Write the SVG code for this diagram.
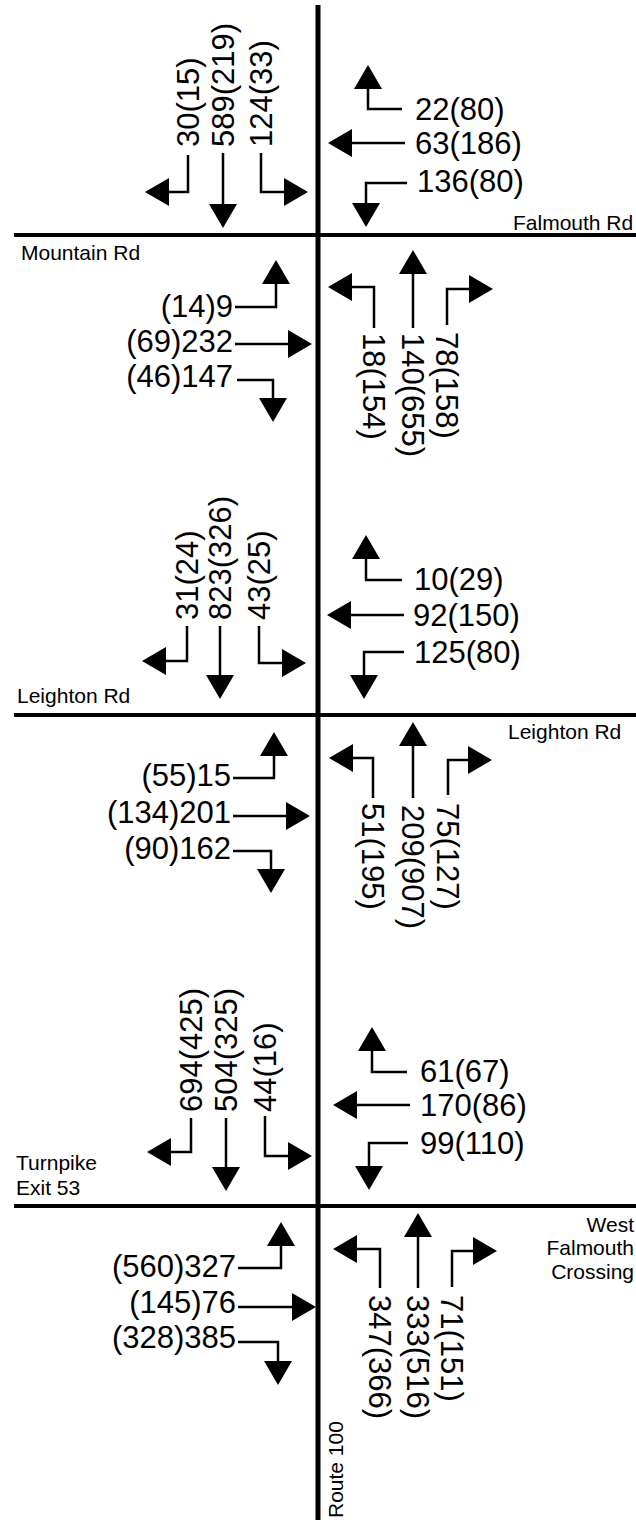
<svg xmlns="http://www.w3.org/2000/svg" width="636" height="1520" viewBox="0 0 636 1520">
<style>
.road{stroke:#000;fill:none}
.arr{stroke:#000;stroke-width:2.5;fill:none;marker-end:url(#ah)}
.n{font-family:"Liberation Sans",Arial,sans-serif;font-size:31px;fill:#000}
.e{text-anchor:end}
.lbl{font-family:"Liberation Sans",Arial,sans-serif;font-size:21px;fill:#000}
</style>
<defs>
<marker id="ah" markerUnits="userSpaceOnUse" viewBox="0 0 24 28" markerWidth="24" markerHeight="28" refX="0" refY="14" orient="auto">
<path d="M0,0 L24,14 L0,28 z" fill="#000"/>
</marker>
</defs>
<rect width="636" height="1520" fill="#fff"/>
<g id="roads">
<line class="road" x1="318" y1="5" x2="318" y2="1520" stroke-width="5"/>
<line class="road" x1="14" y1="235" x2="636" y2="235" stroke-width="4"/>
<line class="road" x1="14" y1="715" x2="636" y2="715" stroke-width="4"/>
<line class="road" x1="14" y1="1206" x2="636" y2="1206" stroke-width="4"/>
</g>
<g id="connectors">
<!-- intersection 1 -->
<path class="arr" d="M188,155 V192 H169"/>
<path class="arr" d="M223,153 V204"/>
<path class="arr" d="M261,153 V192 H284"/>
<path class="arr" d="M402,109 H368 V89"/>
<path class="arr" d="M405,143 H352"/>
<path class="arr" d="M407,183 H366 V203"/>
<path class="arr" d="M235,307 H276 V284"/>
<path class="arr" d="M235,344 H288"/>
<path class="arr" d="M237,380 H273 V398"/>
<path class="arr" d="M374,328 V287 H352"/>
<path class="arr" d="M413,328 V274"/>
<path class="arr" d="M447,325 V289 H469"/>
<!-- intersection 2 -->
<path class="arr" d="M187,626 V661 H166"/>
<path class="arr" d="M220,626 V675"/>
<path class="arr" d="M259,626 V663 H282"/>
<path class="arr" d="M402,580 H366 V559"/>
<path class="arr" d="M404,615 H351"/>
<path class="arr" d="M404,652 H364 V675"/>
<path class="arr" d="M233,778 H274 V756"/>
<path class="arr" d="M233,816 H286"/>
<path class="arr" d="M233,851 H271 V869"/>
<path class="arr" d="M373,798 V758 H353"/>
<path class="arr" d="M413,798 V746"/>
<path class="arr" d="M448,795 V760 H468"/>
<!-- intersection 3 -->
<path class="arr" d="M191,1118 V1152 H171"/>
<path class="arr" d="M226,1118 V1167"/>
<path class="arr" d="M265,1116 V1156 H288"/>
<path class="arr" d="M407,1072 H372 V1051"/>
<path class="arr" d="M410,1105 H357"/>
<path class="arr" d="M408,1143 H369 V1166"/>
<path class="arr" d="M238,1268 H281 V1246"/>
<path class="arr" d="M238,1307 H292"/>
<path class="arr" d="M238,1342 H278 V1361"/>
<path class="arr" d="M380,1288 V1249 H357"/>
<path class="arr" d="M418,1288 V1237"/>
<path class="arr" d="M452,1287 V1251 H473"/>
</g>
<g id="road-labels">
<text class="lbl" x="513" y="230">Falmouth Rd</text>
<text class="lbl" x="21" y="260">Mountain Rd</text>
<text class="lbl" x="17" y="703">Leighton Rd</text>
<text class="lbl" x="508" y="739">Leighton Rd</text>
<text class="lbl" x="16" y="1170">Turnpike</text>
<text class="lbl" x="16" y="1195">Exit 53</text>
<text class="lbl e" x="634" y="1232">West</text>
<text class="lbl e" x="634" y="1255">Falmouth</text>
<text class="lbl e" x="634" y="1279">Crossing</text>
<text class="lbl" x="343" y="1518" font-size="20" transform="rotate(-90 343 1518)">Route 100</text>
</g>
<g id="i1-south">
<text class="n" x="199" y="147" transform="rotate(-90 199 147)">30(15)</text>
<text class="n" x="234" y="147" transform="rotate(-90 234 147)">589(219)</text>
<text class="n" x="272" y="147" transform="rotate(-90 272 147)">124(33)</text>
</g>
<g id="i1-west">
<text class="n" x="415" y="120">22(80)</text>
<text class="n" x="415" y="154">63(186)</text>
<text class="n" x="417" y="192">136(80)</text>
</g>
<g id="i1-east">
<text class="n e" x="233" y="317">(14)9</text>
<text class="n e" x="233" y="352">(69)232</text>
<text class="n e" x="233" y="387">(46)147</text>
</g>
<g id="i1-north">
<text class="n" x="363" y="333" transform="rotate(90 363 333)">18(154)</text>
<text class="n" x="402" y="333" transform="rotate(90 402 333)">140(655)</text>
<text class="n" x="436" y="332" transform="rotate(90 436 332)">78(158)</text>
</g>
<g id="i2-south">
<text class="n" x="198" y="620" transform="rotate(-90 198 620)">31(24)</text>
<text class="n" x="231" y="620" transform="rotate(-90 231 620)">823(326)</text>
<text class="n" x="270" y="620" transform="rotate(-90 270 620)">43(25)</text>
</g>
<g id="i2-west">
<text class="n" x="414" y="590">10(29)</text>
<text class="n" x="413" y="626">92(150)</text>
<text class="n" x="414" y="663">125(80)</text>
</g>
<g id="i2-east">
<text class="n e" x="231" y="786">(55)15</text>
<text class="n e" x="231" y="823">(134)201</text>
<text class="n e" x="231" y="859">(90)162</text>
</g>
<g id="i2-north">
<text class="n" x="362" y="803" transform="rotate(90 362 803)">51(195)</text>
<text class="n" x="402" y="805" transform="rotate(90 402 805)">209(907)</text>
<text class="n" x="437" y="803" transform="rotate(90 437 803)">75(127)</text>
</g>
<g id="i3-south">
<text class="n" x="202" y="1112" transform="rotate(-90 202 1112)">694(425)</text>
<text class="n" x="237" y="1112" transform="rotate(-90 237 1112)">504(325)</text>
<text class="n" x="276" y="1112" transform="rotate(-90 276 1112)">44(16)</text>
</g>
<g id="i3-west">
<text class="n" x="420" y="1082">61(67)</text>
<text class="n" x="420" y="1116">170(86)</text>
<text class="n" x="420" y="1154">99(110)</text>
</g>
<g id="i3-east">
<text class="n e" x="236" y="1277">(560)327</text>
<text class="n e" x="236" y="1313">(145)76</text>
<text class="n e" x="236" y="1348">(328)385</text>
</g>
<g id="i3-north">
<text class="n" x="369" y="1295" transform="rotate(90 369 1295)">347(366)</text>
<text class="n" x="407" y="1295" transform="rotate(90 407 1295)">333(516)</text>
<text class="n" x="441" y="1295" transform="rotate(90 441 1295)">71(151)</text>
</g>
</svg>
